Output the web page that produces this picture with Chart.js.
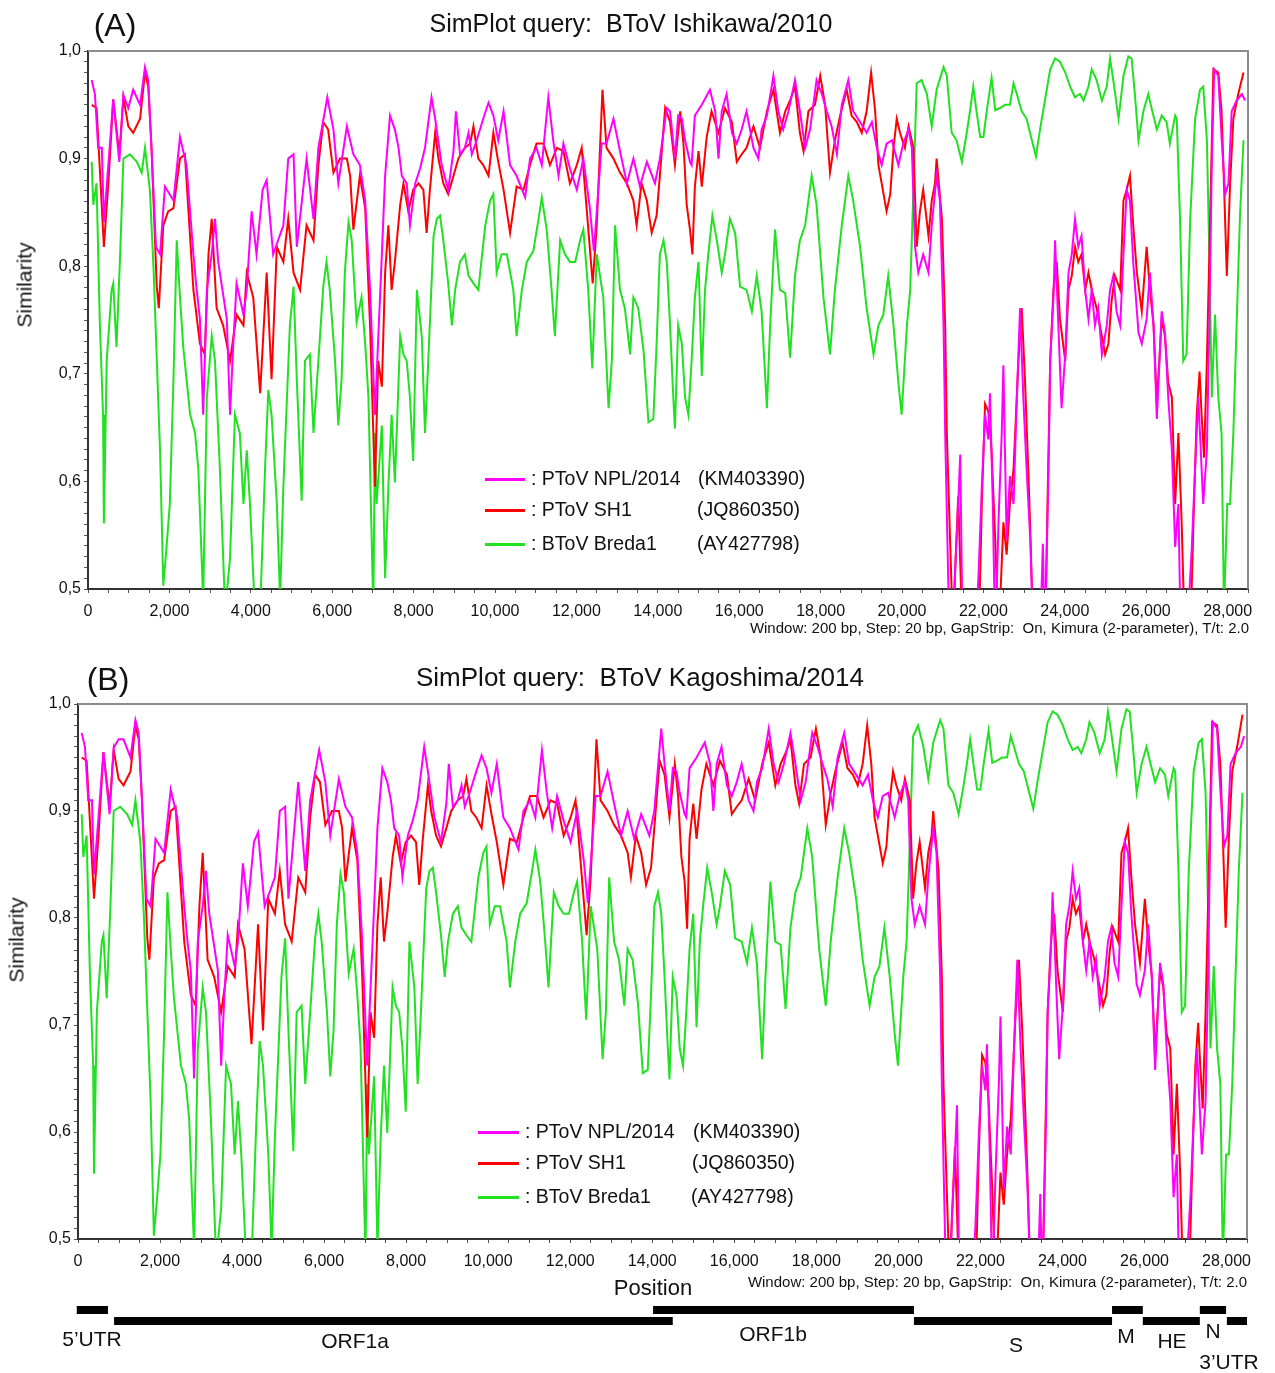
<!DOCTYPE html>
<html>
<head>
<meta charset="utf-8">
<script src="https://cdn.jsdelivr.net/npm/chart.js@4.4.1/dist/chart.umd.min.js"></script>
<style>
  body { margin: 0; width: 1275px; height: 1373px; background: #fff; position: relative; overflow: hidden;
         font-family: "Liberation Sans", Arial, sans-serif; color: #111; }
  canvas { position: absolute; left: 0; }
  .t { position: absolute; white-space: pre; line-height: 1; }
  .c { transform: translate(-50%, -50%); }
  .l { transform: translateY(-50%); }
  .r { transform: translate(-100%, -50%); }
  .rot { transform: translate(-50%, -50%) rotate(-90deg); }
  .sw { position: absolute; height: 3px; }
</style>
</head>
<body>
<canvas id="chartA" width="1275" height="660" style="top:0"></canvas>
<canvas id="chartB" width="1275" height="723" style="top:650px"></canvas>

<!-- panel A texts -->
<div class="t c" style="left:115px;top:25px;font-size:32px">(A)</div>
<div class="t c" style="left:631px;top:23px;font-size:25px">SimPlot query:  BToV Ishikawa/2010</div>
<div class="t rot" style="left:24px;top:285px;font-size:21px">Similarity</div>
<div class="t r" style="left:1249px;top:627px;font-size:15px">Window: 200 bp, Step: 20 bp, GapStrip:  On, Kimura (2-parameter), T/t: 2.0</div>

<div class="sw" style="left:485px;top:478px;width:40px;background:#ff00ff"></div>
<div class="sw" style="left:485px;top:509px;width:40px;background:#ff0000"></div>
<div class="sw" style="left:485px;top:543px;width:40px;background:#22e022"></div>
<div class="t l" style="left:531px;top:479px;font-size:19.5px">: PToV NPL/2014</div>
<div class="t l" style="left:531px;top:510px;font-size:19.5px">: PToV SH1</div>
<div class="t l" style="left:531px;top:544px;font-size:19.5px">: BToV Breda1</div>
<div class="t l" style="left:698px;top:479px;font-size:19.5px">(KM403390)</div>
<div class="t l" style="left:697px;top:510px;font-size:19.5px">(JQ860350)</div>
<div class="t l" style="left:697px;top:544px;font-size:19.5px">(AY427798)</div>

<!-- panel B texts -->
<div class="t c" style="left:108px;top:679px;font-size:32px">(B)</div>
<div class="t c" style="left:640px;top:677px;font-size:26px">SimPlot query:  BToV Kagoshima/2014</div>
<div class="t rot" style="left:16px;top:940px;font-size:21px">Similarity</div>
<div class="t r" style="left:1247px;top:1281px;font-size:15px">Window: 200 bp, Step: 20 bp, GapStrip:  On, Kimura (2-parameter), T/t: 2.0</div>
<div class="t c" style="left:653px;top:1288px;font-size:22px">Position</div>

<div class="sw" style="left:478px;top:1131px;width:41px;background:#ff00ff"></div>
<div class="sw" style="left:478px;top:1162px;width:41px;background:#ff0000"></div>
<div class="sw" style="left:478px;top:1196px;width:41px;background:#22e022"></div>
<div class="t l" style="left:525px;top:1132px;font-size:19.5px">: PToV NPL/2014</div>
<div class="t l" style="left:525px;top:1163px;font-size:19.5px">: PToV SH1</div>
<div class="t l" style="left:525px;top:1197px;font-size:19.5px">: BToV Breda1</div>
<div class="t l" style="left:693px;top:1132px;font-size:19.5px">(KM403390)</div>
<div class="t l" style="left:692px;top:1163px;font-size:19.5px">(JQ860350)</div>
<div class="t l" style="left:691px;top:1197px;font-size:19.5px">(AY427798)</div>

<!-- genome map labels -->
<div class="t c" style="left:92px;top:1338px;font-size:21px">5’UTR</div>
<div class="t c" style="left:355px;top:1340px;font-size:21px">ORF1a</div>
<div class="t c" style="left:773px;top:1333px;font-size:21px">ORF1b</div>
<div class="t c" style="left:1016px;top:1344px;font-size:21px">S</div>
<div class="t c" style="left:1126px;top:1335px;font-size:21px">M</div>
<div class="t c" style="left:1172px;top:1340px;font-size:21px">HE</div>
<div class="t c" style="left:1213px;top:1330px;font-size:21px">N</div>
<div class="t c" style="left:1229px;top:1361px;font-size:21px">3’UTR</div>

<script>
const nplPos = [
  90,170,250,340,390,500,620,770,870,990,
  1110,1280,1400,1480,1560,1670,1770,1890,2100,2260,
  2420,2590,2670,2750,2830,2920,3040,3120,3200,3410,
  3490,3570,3650,3820,3900,4020,4140,4290,4390,4550,
  4800,4920,5050,5130,5370,5540,5660,5880,6030,6150,
  6360,6520,6680,6810,6930,7050,7220,7300,7420,7540,
  7630,7710,7830,7910,8040,8160,8280,8440,8530,8690,
  8850,8980,9040,9140,9260,9350,9430,9550,9710,9840,
  9960,10080,10210,10370,10530,10740,10860,11020,11150,11310,
  11430,11560,11680,11840,12010,12170,12330,12430,12620,12740,
  12910,13070,13240,13400,13560,13730,13930,14050,14220,14300,
  14420,14500,14590,14670,14790,14830,14910,15080,15280,15410,
  15490,15570,15690,15820,15940,16060,16180,16350,16470,16550,
  16680,16840,16960,17080,17210,17370,17490,17620,17740,17900,
  18030,18150,18270,18400,18520,18680,18800,18970,19130,19260,
  19380,19500,19620,19750,19910,20030,20160,20240,20320,20400,
  20520,20650,20730,20850,20930,21020,21060,21140,21220,21300,
  21380,21430,21490,21800,21880,21960,22040,22120,22160,22230,
  22290,22370,22450,22490,22570,22650,22740,22820,22900,22980,
  23060,23150,23230,23390,23460,23510,23600,23640,23720,23760,
  23840,23920,24010,24090,24170,24250,24330,24410,24500,24580,
  24660,24740,24820,24910,25030,25110,25190,25270,25360,25440,
  25520,25600,25680,25810,25890,26010,26090,26180,26260,26380,
  26460,26540,26630,26710,26790,26850,26990,27120,27200,27280,
  27400,27490,27550,27610,27670,27770,27850,27940,28020,28100,
  28220,28350,28430
];
const sh1Pos = [
  90,210,290,390,500,620,770,870,990,1110,
  1280,1400,1480,1560,1690,1740,1850,1970,2100,2260,
  2380,2590,2750,2870,2960,3040,3160,3320,3490,3650,
  3820,3900,4060,4230,4390,4510,4640,4800,4920,5050,
  5210,5370,5540,5660,5780,5900,6030,6190,6360,6440,
  6520,6680,6810,6930,7050,7130,7220,7300,7380,7460,
  7540,7670,7750,7870,7990,8120,8240,8320,8400,8530,
  8610,8730,8850,8980,9100,9260,9390,9470,9590,9710,
  9840,9960,10080,10210,10370,10530,10700,10860,11020,11190,
  11350,11520,11680,11840,12010,12130,12250,12400,12500,12640,
  12740,12910,13070,13240,13400,13480,13600,13730,13850,13970,
  14050,14180,14300,14420,14550,14630,14710,14790,14850,14910,
  15000,15080,15200,15320,15490,15650,15820,15940,16060,16180,
  16350,16510,16680,16840,17000,17130,17250,17370,17490,17580,
  17700,17860,17990,18110,18230,18350,18480,18640,18760,18890,
  19010,19130,19240,19340,19420,19500,19620,19710,19790,19870,
  19950,20070,20160,20280,20360,20440,20520,20650,20730,20810,
  20850,20980,21060,21100,21180,21260,21300,21380,21490,21880,
  21960,22040,22120,22200,22290,22370,22490,22570,22650,22740,
  22860,22940,23020,23100,23150,23230,23510,23640,23720,23800,
  23880,24010,24090,24170,24250,24330,24410,24500,24580,24660,
  24780,24910,24990,25070,25150,25230,25360,25440,25520,25600,
  25680,25770,25890,26010,26090,26180,26260,26380,26460,26540,
  26630,26710,26790,26870,26950,27080,27160,27240,27310,27360,
  27420,27490,27550,27650,27770,27850,27910,27980,28060,28140,
  28260,28390
];
const bredaPos = [
  90,130,210,290,370,390,460,580,620,700,
  790,870,1030,1200,1320,1400,1520,1610,1770,1850,
  1930,2010,2100,2180,2260,2340,2510,2630,2710,2830,
  2920,3040,3120,3240,3370,3490,3610,3730,3820,3900,
  3980,4100,4230,4350,4430,4510,4640,4720,4800,4960,
  5050,5130,5250,5330,5450,5540,5660,5780,5860,5940,
  6070,6150,6230,6310,6400,6480,6600,6720,6810,6890,
  7010,7050,7090,7220,7300,7380,7460,7540,7670,7750,
  7830,7910,7990,8080,8200,8280,8360,8490,8570,8650,
  8730,8850,8940,9020,9140,9260,9350,9470,9590,9760,
  9880,9960,10040,10160,10290,10450,10530,10660,10780,10940,
  11070,11150,11270,11390,11470,11600,11720,11840,11970,12090,
  12170,12290,12390,12500,12660,12790,12870,12950,13070,13190,
  13320,13400,13520,13650,13770,13890,13970,14050,14140,14220,
  14300,14380,14420,14500,14590,14670,14750,14830,14910,15000,
  15080,15160,15240,15340,15450,15570,15650,15770,15900,16020,
  16180,16310,16430,16550,16680,16760,16880,17000,17130,17250,
  17370,17490,17620,17780,17900,18070,18230,18350,18520,18680,
  18800,18970,19130,19300,19420,19540,19660,19790,19910,19990,
  20120,20200,20280,20360,20480,20610,20730,20850,21020,21100,
  21220,21340,21470,21590,21670,21750,21830,21920,22000,22080,
  22200,22290,22410,22530,22650,22740,22820,22940,23060,23190,
  23290,23390,23510,23640,23760,23880,24010,24130,24250,24370,
  24460,24580,24660,24780,24910,25030,25110,25190,25320,25440,
  25560,25640,25720,25810,25930,26050,26130,26260,26380,26500,
  26580,26710,26750,26830,26910,26990,27080,27200,27320,27400,
  27490,27550,27610,27690,27770,27850,27910,27990,28060,28140,
  28220,28300,28390
];

// (A) query BToV Ishikawa/2010
const aNpl = [
  0.973,0.960,0.910,0.910,0.841,0.894,0.955,0.897,0.959,0.947,
  0.964,0.950,0.985,0.973,0.910,0.818,0.811,0.874,0.861,0.920,
  0.894,0.811,0.778,0.751,0.662,0.778,0.811,0.844,0.804,0.751,
  0.662,0.728,0.784,0.755,0.778,0.851,0.811,0.871,0.880,0.811,
  0.838,0.900,0.904,0.818,0.900,0.844,0.910,0.957,0.927,0.877,
  0.930,0.904,0.894,0.861,0.778,0.662,0.811,0.884,0.940,0.927,
  0.910,0.884,0.877,0.838,0.877,0.891,0.910,0.957,0.937,0.894,
  0.871,0.907,0.944,0.904,0.910,0.924,0.904,0.917,0.937,0.952,
  0.940,0.917,0.944,0.894,0.884,0.864,0.900,0.910,0.894,0.957,
  0.917,0.884,0.914,0.891,0.871,0.900,0.854,0.814,0.914,0.914,
  0.937,0.907,0.877,0.900,0.874,0.897,0.877,0.900,0.947,0.944,
  0.900,0.940,0.937,0.917,0.897,0.894,0.940,0.950,0.964,0.944,
  0.900,0.944,0.960,0.924,0.914,0.927,0.944,0.910,0.900,0.927,
  0.940,0.977,0.944,0.927,0.944,0.973,0.944,0.910,0.927,0.973,
  0.960,0.944,0.930,0.904,0.950,0.973,0.944,0.934,0.924,0.934,
  0.910,0.894,0.914,0.917,0.894,0.914,0.927,0.910,0.818,0.794,
  0.811,0.794,0.838,0.884,0.861,0.745,0.645,0.500,0.450,0.513,
  0.579,0.625,0.450,0.450,0.513,0.595,0.662,0.639,0.682,0.579,
  0.450,0.562,0.645,0.708,0.546,0.605,0.579,0.678,0.761,0.678,
  0.612,0.546,0.450,0.450,0.542,0.450,0.612,0.712,0.771,0.824,
  0.745,0.668,0.718,0.794,0.811,0.844,0.818,0.828,0.778,0.751,
  0.778,0.745,0.761,0.718,0.745,0.778,0.791,0.758,0.745,0.811,
  0.871,0.861,0.804,0.738,0.728,0.751,0.794,0.745,0.658,0.758,
  0.738,0.678,0.629,0.539,0.579,0.450,0.450,0.539,0.612,0.678,
  0.579,0.629,0.745,0.894,0.983,0.977,0.920,0.867,0.877,0.944,
  0.954,0.960,0.954
];
const aSh1 = [
  0.950,0.947,0.891,0.818,0.877,0.955,0.904,0.957,0.930,0.924,
  0.937,0.980,0.967,0.910,0.781,0.761,0.838,0.851,0.854,0.900,
  0.904,0.778,0.728,0.718,0.811,0.844,0.761,0.745,0.712,0.755,
  0.745,0.794,0.771,0.682,0.794,0.695,0.818,0.804,0.844,0.794,
  0.778,0.838,0.824,0.894,0.934,0.927,0.887,0.900,0.900,0.884,
  0.834,0.884,0.854,0.745,0.595,0.712,0.688,0.794,0.838,0.778,
  0.804,0.857,0.877,0.851,0.871,0.877,0.871,0.831,0.871,0.924,
  0.900,0.877,0.867,0.884,0.900,0.910,0.914,0.930,0.900,0.894,
  0.884,0.924,0.897,0.871,0.831,0.874,0.871,0.894,0.914,0.914,
  0.894,0.910,0.907,0.877,0.894,0.910,0.854,0.784,0.838,0.964,
  0.910,0.900,0.887,0.877,0.861,0.838,0.877,0.861,0.831,0.847,
  0.884,0.947,0.934,0.894,0.944,0.914,0.857,0.834,0.811,0.874,
  0.907,0.874,0.920,0.944,0.924,0.947,0.934,0.897,0.904,0.910,
  0.930,0.910,0.944,0.964,0.924,0.944,0.954,0.967,0.924,0.907,
  0.944,0.950,0.977,0.950,0.887,0.917,0.940,0.964,0.940,0.934,
  0.924,0.944,0.980,0.944,0.894,0.877,0.851,0.867,0.910,0.937,
  0.924,0.910,0.930,0.910,0.818,0.851,0.871,0.828,0.861,0.877,
  0.900,0.844,0.745,0.645,0.546,0.450,0.513,0.586,0.450,0.450,
  0.579,0.672,0.665,0.629,0.546,0.450,0.562,0.532,0.579,0.612,
  0.712,0.761,0.695,0.612,0.556,0.450,0.450,0.712,0.778,0.804,
  0.751,0.712,0.778,0.791,0.818,0.804,0.811,0.778,0.794,0.778,
  0.761,0.735,0.718,0.728,0.768,0.791,0.778,0.861,0.871,0.884,
  0.838,0.794,0.758,0.818,0.778,0.745,0.672,0.751,0.735,0.692,
  0.678,0.579,0.645,0.562,0.450,0.450,0.562,0.662,0.702,0.662,
  0.622,0.712,0.811,0.983,0.980,0.944,0.877,0.791,0.877,0.937,
  0.960,0.980
];
const aBreda = [
  0.897,0.857,0.877,0.748,0.662,0.561,0.712,0.778,0.784,0.725,
  0.811,0.900,0.904,0.897,0.887,0.910,0.871,0.798,0.629,0.503,
  0.539,0.579,0.695,0.824,0.771,0.725,0.662,0.645,0.612,0.490,
  0.678,0.735,0.712,0.612,0.480,0.529,0.662,0.645,0.579,0.629,
  0.579,0.480,0.480,0.612,0.685,0.662,0.579,0.490,0.595,0.745,
  0.781,0.695,0.582,0.712,0.718,0.645,0.712,0.781,0.804,0.778,
  0.712,0.652,0.695,0.794,0.841,0.824,0.748,0.771,0.728,0.678,
  0.480,0.645,0.579,0.652,0.510,0.595,0.662,0.599,0.735,0.718,
  0.712,0.678,0.619,0.778,0.735,0.645,0.712,0.828,0.844,0.847,
  0.824,0.784,0.745,0.778,0.804,0.811,0.791,0.784,0.778,0.838,
  0.861,0.867,0.794,0.811,0.811,0.778,0.735,0.778,0.804,0.814,
  0.844,0.864,0.834,0.778,0.735,0.824,0.811,0.804,0.804,0.824,
  0.834,0.778,0.705,0.811,0.771,0.668,0.712,0.838,0.778,0.761,
  0.718,0.771,0.761,0.721,0.655,0.658,0.728,0.811,0.824,0.804,
  0.745,0.678,0.649,0.745,0.728,0.678,0.662,0.712,0.771,0.804,
  0.698,0.778,0.811,0.847,0.824,0.794,0.811,0.844,0.831,0.781,
  0.778,0.758,0.791,0.758,0.668,0.745,0.834,0.778,0.775,0.715,
  0.791,0.824,0.838,0.884,0.857,0.771,0.718,0.778,0.838,0.884,
  0.861,0.818,0.761,0.718,0.745,0.755,0.791,0.745,0.692,0.662,
  0.745,0.778,0.871,0.970,0.973,0.960,0.930,0.964,0.985,0.977,
  0.924,0.917,0.897,0.924,0.944,0.967,0.944,0.920,0.920,0.944,
  0.975,0.945,0.947,0.950,0.950,0.970,0.960,0.944,0.937,0.917,
  0.902,0.927,0.954,0.983,0.993,0.990,0.980,0.967,0.957,0.960,
  0.954,0.967,0.983,0.973,0.954,0.967,0.993,0.973,0.937,0.977,
  0.995,0.993,0.960,0.917,0.944,0.960,0.947,0.927,0.940,0.934,
  0.914,0.940,0.937,0.844,0.712,0.718,0.844,0.937,0.964,0.967,
  0.917,0.811,0.678,0.755,0.678,0.645,0.480,0.579,0.579,0.645,
  0.745,0.844,0.917
];

// (B) query BToV Kagoshima/2014
const bNpl = [
  0.973,0.960,0.910,0.910,0.841,0.894,0.955,0.897,0.959,0.967,
  0.967,0.950,0.985,0.973,0.910,0.818,0.811,0.874,0.861,0.920,
  0.894,0.811,0.778,0.751,0.650,0.778,0.811,0.844,0.804,0.751,
  0.662,0.728,0.784,0.755,0.778,0.851,0.811,0.871,0.880,0.811,
  0.838,0.900,0.904,0.818,0.927,0.844,0.910,0.957,0.927,0.877,
  0.930,0.904,0.894,0.861,0.778,0.662,0.811,0.884,0.940,0.927,
  0.910,0.884,0.877,0.838,0.877,0.891,0.910,0.960,0.937,0.894,
  0.871,0.907,0.944,0.904,0.910,0.924,0.904,0.917,0.937,0.952,
  0.940,0.917,0.944,0.894,0.884,0.864,0.900,0.910,0.894,0.957,
  0.917,0.884,0.914,0.891,0.871,0.900,0.854,0.814,0.914,0.914,
  0.937,0.907,0.877,0.900,0.874,0.897,0.877,0.900,0.977,0.944,
  0.900,0.940,0.937,0.917,0.897,0.894,0.940,0.950,0.964,0.944,
  0.900,0.944,0.960,0.924,0.914,0.927,0.944,0.910,0.900,0.927,
  0.940,0.977,0.944,0.927,0.944,0.973,0.944,0.910,0.927,0.973,
  0.960,0.944,0.930,0.904,0.950,0.973,0.944,0.934,0.924,0.934,
  0.910,0.894,0.914,0.917,0.894,0.914,0.927,0.910,0.818,0.794,
  0.811,0.794,0.838,0.884,0.861,0.745,0.645,0.500,0.450,0.513,
  0.579,0.625,0.450,0.450,0.513,0.595,0.662,0.639,0.682,0.579,
  0.450,0.562,0.645,0.708,0.546,0.605,0.579,0.678,0.761,0.678,
  0.612,0.546,0.450,0.450,0.542,0.450,0.612,0.712,0.771,0.824,
  0.745,0.668,0.718,0.794,0.811,0.844,0.818,0.828,0.778,0.751,
  0.778,0.745,0.761,0.718,0.745,0.778,0.791,0.758,0.745,0.811,
  0.871,0.861,0.804,0.738,0.728,0.751,0.794,0.745,0.658,0.758,
  0.738,0.678,0.629,0.539,0.579,0.450,0.450,0.539,0.612,0.678,
  0.579,0.629,0.745,0.894,0.983,0.977,0.920,0.867,0.877,0.944,
  0.954,0.960,0.970
];
const bSh1 = [
  0.950,0.947,0.891,0.818,0.877,0.955,0.904,0.957,0.930,0.924,
  0.937,0.980,0.967,0.910,0.781,0.761,0.838,0.851,0.854,0.900,
  0.904,0.778,0.728,0.718,0.811,0.861,0.761,0.745,0.712,0.755,
  0.745,0.794,0.771,0.682,0.794,0.695,0.818,0.804,0.844,0.794,
  0.778,0.838,0.824,0.894,0.934,0.927,0.887,0.900,0.900,0.884,
  0.834,0.884,0.854,0.745,0.595,0.712,0.688,0.794,0.838,0.778,
  0.804,0.857,0.877,0.851,0.871,0.877,0.871,0.831,0.871,0.924,
  0.900,0.877,0.867,0.884,0.900,0.910,0.914,0.930,0.900,0.894,
  0.884,0.924,0.897,0.871,0.831,0.874,0.871,0.894,0.914,0.914,
  0.894,0.910,0.907,0.877,0.894,0.910,0.854,0.784,0.838,0.967,
  0.910,0.900,0.887,0.877,0.861,0.838,0.877,0.861,0.831,0.847,
  0.884,0.947,0.934,0.894,0.944,0.914,0.857,0.834,0.790,0.874,
  0.907,0.874,0.920,0.944,0.924,0.947,0.934,0.897,0.904,0.910,
  0.930,0.910,0.944,0.964,0.924,0.944,0.954,0.967,0.924,0.907,
  0.944,0.950,0.977,0.950,0.887,0.917,0.940,0.964,0.940,0.934,
  0.924,0.944,0.980,0.944,0.894,0.877,0.851,0.867,0.910,0.937,
  0.924,0.910,0.930,0.910,0.818,0.851,0.871,0.828,0.861,0.877,
  0.900,0.844,0.745,0.645,0.546,0.450,0.513,0.586,0.450,0.450,
  0.579,0.672,0.665,0.629,0.546,0.450,0.562,0.532,0.579,0.612,
  0.712,0.761,0.695,0.612,0.556,0.450,0.450,0.712,0.778,0.804,
  0.751,0.712,0.778,0.791,0.818,0.804,0.811,0.778,0.794,0.778,
  0.761,0.735,0.718,0.728,0.768,0.791,0.778,0.861,0.871,0.884,
  0.838,0.794,0.758,0.818,0.778,0.745,0.672,0.751,0.735,0.692,
  0.678,0.579,0.645,0.562,0.450,0.450,0.562,0.662,0.702,0.662,
  0.622,0.712,0.811,0.983,0.980,0.944,0.877,0.791,0.877,0.937,
  0.960,0.990
];
const bBreda = [
  0.897,0.857,0.877,0.748,0.662,0.561,0.712,0.778,0.784,0.725,
  0.811,0.900,0.904,0.897,0.887,0.910,0.871,0.798,0.629,0.503,
  0.539,0.579,0.695,0.824,0.771,0.725,0.662,0.645,0.612,0.490,
  0.678,0.735,0.712,0.612,0.480,0.529,0.662,0.645,0.579,0.629,
  0.579,0.480,0.480,0.612,0.685,0.662,0.579,0.490,0.595,0.745,
  0.781,0.695,0.582,0.712,0.718,0.645,0.712,0.781,0.804,0.778,
  0.712,0.652,0.695,0.794,0.841,0.824,0.748,0.771,0.728,0.678,
  0.480,0.645,0.579,0.652,0.490,0.595,0.662,0.599,0.735,0.718,
  0.712,0.678,0.619,0.778,0.735,0.645,0.712,0.828,0.844,0.847,
  0.824,0.784,0.745,0.778,0.804,0.811,0.791,0.784,0.778,0.838,
  0.861,0.867,0.794,0.811,0.811,0.778,0.735,0.778,0.804,0.814,
  0.844,0.864,0.834,0.778,0.735,0.824,0.811,0.804,0.804,0.824,
  0.834,0.778,0.705,0.811,0.771,0.668,0.712,0.838,0.778,0.761,
  0.718,0.771,0.761,0.721,0.655,0.658,0.728,0.811,0.824,0.804,
  0.745,0.678,0.649,0.745,0.728,0.678,0.662,0.712,0.771,0.804,
  0.698,0.778,0.811,0.847,0.824,0.794,0.811,0.844,0.831,0.781,
  0.778,0.758,0.791,0.758,0.668,0.745,0.834,0.778,0.775,0.715,
  0.791,0.824,0.838,0.884,0.857,0.771,0.718,0.778,0.838,0.884,
  0.861,0.818,0.761,0.718,0.745,0.755,0.791,0.745,0.692,0.662,
  0.745,0.778,0.871,0.970,0.980,0.960,0.930,0.964,0.985,0.977,
  0.924,0.917,0.897,0.924,0.944,0.967,0.944,0.920,0.920,0.944,
  0.975,0.945,0.947,0.950,0.950,0.970,0.960,0.944,0.937,0.917,
  0.902,0.927,0.954,0.983,0.993,0.990,0.980,0.967,0.957,0.960,
  0.954,0.967,0.983,0.973,0.954,0.967,0.993,0.973,0.937,0.977,
  0.995,0.993,0.960,0.917,0.944,0.960,0.947,0.927,0.940,0.934,
  0.914,0.940,0.937,0.844,0.712,0.718,0.844,0.937,0.964,0.967,
  0.917,0.811,0.678,0.755,0.678,0.645,0.480,0.579,0.579,0.645,
  0.745,0.844,0.917
];

// genome map under panel B (bp), row 0 = upper strip, 1 = lower strip
const geneStart = [-30, 880, 14020, 20380, 25210, 25960, 27350, 28010];
const geneEnd   = [730, 14500, 20380, 25210, 25960, 27350, 27990, 28500];
const geneRow   = [0, 1, 0, 1, 0, 1, 0, 1];

const FONT = '"Liberation Sans", Arial, sans-serif';

function pts(pos, val) {
  return pos.map((x, i) => ({ x: x, y: val[i] }));
}
function commas(v) {
  return String(v).replace(/\B(?=(\d{3})+(?!\d))/g, ',');
}

const framePlugin = {
  id: 'frame',
  afterDatasetsDraw(chart) {
    const a = chart.chartArea, c = chart.ctx;
    c.save();
    c.strokeStyle = '#8c8c8c';
    c.lineWidth = 2;
    c.beginPath();
    c.moveTo(a.left, a.top);
    c.lineTo(a.right, a.top);
    c.lineTo(a.right, a.bottom);
    c.stroke();
    c.restore();
  }
};

const genePlugin = {
  id: 'genes',
  afterDraw(chart) {
    const xs = chart.scales.x, c = chart.ctx, base = chart.chartArea.bottom;
    c.save();
    c.fillStyle = '#000';
    geneStart.forEach((s, i) => {
      const x1 = xs.getPixelForValue(s);
      const x2 = xs.getPixelForValue(geneEnd[i]);
      c.fillRect(x1, base + (geneRow[i] ? 78 : 67), x2 - x1, 8);
    });
    c.restore();
  }
};

function makeChart(id, npl, sh1, breda, box) {
  const grid = { drawOnChartArea: false, drawTicks: true, tickLength: 4, color: '#555' };
  const border = { display: true, color: '#333', width: 2 };
  return new Chart(document.getElementById(id), {
    type: 'line',
    data: {
      datasets: [
        { label: 'PToV NPL/2014', data: pts(nplPos, npl), borderColor: '#ff00ff', order: 0 },
        { label: 'PToV SH1', data: pts(sh1Pos, sh1), borderColor: '#ff0000', order: 1 },
        { label: 'BToV Breda1', data: pts(bredaPos, breda), borderColor: '#22e022', order: 2 }
      ]
    },
    options: {
      responsive: false,
      animation: false,
      layout: { padding: { top: box.top, right: box.right, bottom: box.bottom, left: 0 } },
      elements: { point: { radius: 0 }, line: { borderWidth: 2, tension: 0 } },
      plugins: { legend: { display: false }, tooltip: { enabled: false } },
      scales: {
        x: {
          type: 'linear', min: 0, max: 28500,
          afterFit: s => { s.height = 30; },
          grid: grid, border: border,
          ticks: {
            stepSize: 500, autoSkip: false, maxRotation: 0, minRotation: 0, padding: 9,
            color: '#111', font: { family: FONT, size: 16 },
            callback: v => (v % 2000 === 0 ? commas(v) : '')
          }
        },
        y: {
          min: 0.5, max: 1.0,
          afterFit: s => { s.width = box.left; },
          grid: grid, border: border,
          ticks: {
            stepSize: 0.01, autoSkip: false, padding: 3,
            color: '#111', font: { family: FONT, size: 16 },
            callback: v => {
              const t = Math.round(v * 100);
              return t % 10 === 0 ? (t / 100).toFixed(1).replace('.', ',') : '';
            }
          }
        }
      }
    },
    plugins: box.genes ? [framePlugin, genePlugin] : [framePlugin]
  });
}

makeChart('chartA', aNpl, aSh1, aBreda, { top: 51, right: 27, bottom: 41, left: 88 });
makeChart('chartB', bNpl, bSh1, bBreda, { top: 54, right: 28, bottom: 104, left: 78, genes: true });
</script>
</body>
</html>
